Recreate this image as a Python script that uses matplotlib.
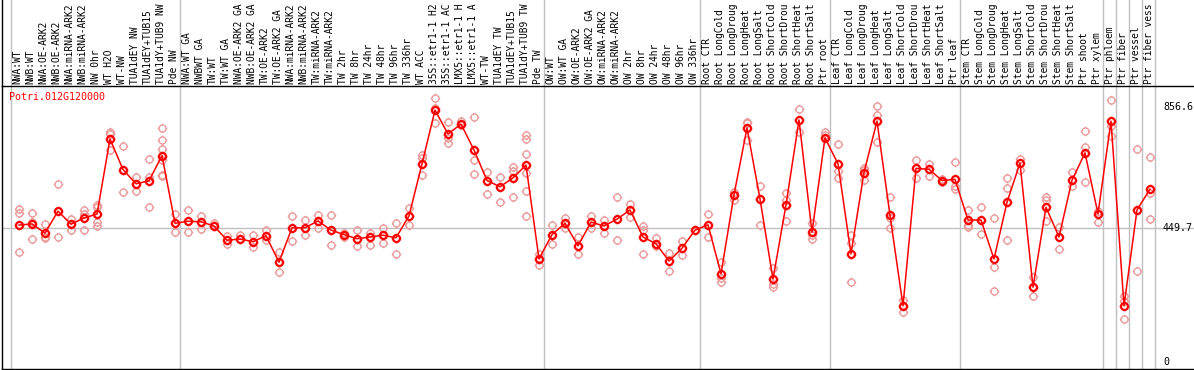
import numpy as np
import matplotlib
matplotlib.use("Agg")
import matplotlib.pyplot as plt
from matplotlib.path import Path

# sample names (top labels, as far as they show in the header strip)
labels = [
    "NWA:WT", "NWB:WT", "NWA:OE-ARK2", "NWB:OE-ARK2", "NWA:miRNA-ARK2", "NWB:miRNA-ARK2",
    "NW 0hr", "WT H2O", "WT-NW", "TUA1dEY NW", "TUA1dEY+TUB15", "TUA1dY+TUB9 NW", "Pde NW",
    "NWA:WT GA", "NWBWT GA", "TW:WT", "TW:WT GA", "NWA:OE-ARK2 GA", "NWB:OE-ARK2 GA",
    "TW:OE-ARK2", "TW:OE-ARK2 GA", "NWA:miRNA-ARK2", "NWB:miRNA-ARK2", "TW:miRNA-ARK2",
    "TW:miRNA-ARK2", "TW 2hr", "TW 8hr", "TW 24hr", "TW 48hr", "TW 96hr", "TW 336hr",
    "WT ACC", "35S::etr1-1 H2", "35S::etr1-1 AC", "LMX5::etr1-1 H", "LMX5::etr1-1 A",
    "WT-TW", "TUA1dEY TW", "TUA1dEY+TUB15", "TUA1dY+TUB9 TW", "Pde TW",
    "OW:WT", "OW:WT GA", "OW:OE-ARK2", "OW:OE-ARK2 GA", "OW:miRNA-ARK2", "OW:miRNA-ARK2",
    "OW 2hr", "OW 8hr", "OW 24hr", "OW 48hr", "OW 96hr", "OW 336hr",
    "Root CTR", "Root LongCold", "Root LongDroug", "Root LongHeat", "Root LongSalt",
    "Root ShortCold", "Root ShortDrou", "Root ShortHeat", "Root ShortSalt", "Ptr root",
    "Leaf CTR", "Leaf LongCold", "Leaf LongDroug", "Leaf LongHeat", "Leaf LongSalt",
    "Leaf ShortCold", "Leaf ShortDrou", "Leaf ShortHeat", "Leaf ShortSalt", "Ptr leaf",
    "Stem CTR", "Stem LongCold", "Stem LongDroug", "Stem LongHeat", "Stem LongSalt",
    "Stem ShortCold", "Stem ShortDrou", "Stem ShortHeat", "Stem ShortSalt", "Ptr shoot",
    "Ptr xylem", "Ptr phloem", "Ptr fiber", "Ptr vessel", "Ptr fiber vess",
]

# first sample of each group (last entry = end)
group_starts = [0, 13, 41, 53, 63, 73, 84, 85, 86, 87, 88]

# mean expression per sample
means = [
    460, 464, 433, 507, 463, 484, 497, 750, 647, 599, 609, 694, 466,
    473, 471, 457, 409, 413, 404, 424, 335, 451, 451, 474, 443, 428, 414, 420, 426, 417,
    491, 666, 847, 767, 800, 713, 610, 589, 619, 662, 346,
    428, 466, 390, 470, 457, 480, 511, 420, 397, 339, 382, 443,
    461, 296, 562, 787, 548, 278, 528, 814, 436, 754,
    666, 363, 637, 810, 493, 188, 651, 648, 610, 614,
    477, 477, 346, 537, 669, 251, 520, 420, 611, 703, 498,
    810, 188, 511, 581,
]

# individual replicates
reps = [
    [514, 500, 370], [501, 472, 413], [463, 421, 415], [599, 420], [479, 444],
    [511, 497, 444], [528, 520, 472, 457], [775, 766, 713], [726, 571], [621, 576],
    [683, 623, 521], [787, 747, 716, 678, 629, 626], [497, 436],
    [511, 436], [491, 448], [466, 458], [423, 397], [425, 414], [425, 386], [442, 409],
    [370, 302], [491, 407], [478, 426], [493, 450], [493, 392], [435, 421], [444, 388],
    [433, 394], [450, 401], [466, 363], [517, 460], [695, 685, 628], [887, 853, 803],
    [808, 752, 738], [812, 797], [823, 678, 632], [640, 565], [621, 539], [655, 643, 554],
    [763, 749, 698, 635, 575, 491], [363, 326],
    [461, 397], [484, 451], [421, 363], [491, 450], [478, 433], [554, 410], [531, 487],
    [457, 444, 363], [418, 388], [366, 307], [405, 359], [443],
    [497, 421], [335, 281, 270], [573, 545], [808, 803, 747], [590, 461], [315, 261, 251],
    [569, 545, 474], [851, 775], [468, 427, 414], [775, 763],
    [733, 642, 618], [425, 399, 268], [653, 646, 612], [861, 831, 741], [554, 483, 450],
    [209, 166], [679, 618], [666, 626], [614, 606], [672, 590, 581],
    [511, 461, 453], [520, 430], [483, 318, 239], [618, 584, 410], [683, 646], [285, 222],
    [556, 545, 474], [453, 380], [639, 590], [778, 722, 605], [509, 470],
    [881, 794, 760], [220, 203, 145], [715, 304], [688, 569, 480],
]

gene = "Potri.012G120000"
yticks = [856.6, 449.7, 0]

plt.rcParams['font.family'] = ['DejaVu Sans Mono']
fs = 7.2

# circle with four little ticks
circ = Path.unit_circle()
parts = [circ]
for dx, dy in [(0, 1), (0, -1), (1, 0), (-1, 0)]:
    parts.append(Path([(dx, dy), (dx * 1.35, dy * 1.35)], [Path.MOVETO, Path.LINETO]))
mk = Path.make_compound_path(*parts)

fig = plt.figure(figsize=(11.94, 3.70), dpi=100)
ax = fig.add_axes([2 / 1194, 1 / 370, 1192 / 1194, 283.5 / 370])
ax.set_xlim(-17 / 13, 1175 / 13)
ax.set_ylim(-24.6, 930.0)
ax.set_xticks([])
ax.set_yticks([])
for s in ['left', 'top', 'bottom']:
    ax.spines[s].set_color('black')
    ax.spines[s].set_linewidth(1)
ax.spines['right'].set_visible(False)
ax.plot([0, 0], [1, 1.31], transform=ax.transAxes, color='black', lw=1, clip_on=False)

# group separators, running up through the label area
for g in group_starts:
    ax.axvline(g - 0.65, ymin=0, ymax=1.31, color='#c0c0c0', lw=1, clip_on=False, zorder=0)
ax.axhline(yticks[1], color='#c0c0c0', lw=1, zorder=0)

x = np.arange(len(means))
rx = np.concatenate([[i] * len(r) for i, r in enumerate(reps)])
ry = np.concatenate(reps)
ax.plot(rx, ry, ls='none', marker=mk, ms=6.8, mfc='none', mec='#eb9b9b', mew=1.0, zorder=2)
ax.plot(x, means, color='red', lw=1.1, marker=mk, ms=6.8, mfc='none', mec='red', mew=1.6, zorder=3)

for i, lab in enumerate(labels):
    ax.text(i - 0.1, 1.006, lab, rotation=90, ha='center', va='bottom', fontsize=6.9,
            transform=ax.get_xaxis_transform(), clip_on=False)

for v in yticks:
    ax.text(88.0, v, f"{v:g}", ha='left', va='center', fontsize=fs)

ax.text(7.5 / 1192, 0.961, gene, color='red', fontsize=fs, ha='left', va='center',
        transform=ax.transAxes)

plt.savefig("out.png", dpi=100)
